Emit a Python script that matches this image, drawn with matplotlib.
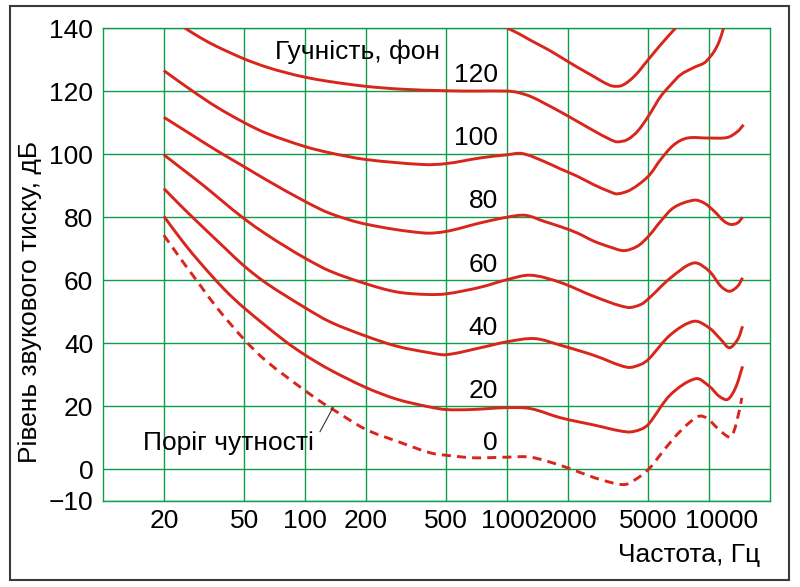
import numpy as np
import matplotlib
matplotlib.use('Agg')
import matplotlib.pyplot as plt
from matplotlib.patches import Rectangle, PathPatch
from matplotlib.path import Path

plt.rcParams['font.family'] = ['Liberation Sans', 'DejaVu Sans']

# equal loudness curves (Hz, dB)
f140 = [1000, 1150, 1306, 1590, 1837, 2223, 2687, 3020, 3320, 3710, 4260, 5000, 5754, 6820]
db140 = [140, 138.1, 136.1, 133.2, 130.8, 127.6, 124.6, 122.7, 121.6, 121.8, 124.7, 130.0, 134.7, 140]

f120 = [25.4, 30.2, 36.4, 50, 64.5, 81, 100, 133, 200, 300, 500, 700, 1000, 1120, 1306, 1521,
        1837, 2223, 2687, 3250, 3510, 3936, 4413, 5000, 5754, 6456, 7230, 8420, 9440, 10000,
        10590, 11220, 11780]
db120 = [140, 137.0, 134.2, 130.2, 127.6, 125.8, 124.4, 123.0, 121.5, 120.6, 120.1, 120.0, 120, 119.6,
         118.3, 116.2, 113.4, 110.4, 107.4, 104.6, 103.9, 104.6, 107.2, 112, 118.3, 122, 125.2,
         127.5, 128.9, 130.5, 132.6, 135.8, 140]

f100 = [20, 26.9, 36.4, 50, 64.5, 100, 133, 200, 386, 500, 738, 1000, 1187, 1521, 1837, 2223,
        2687, 3250, 3510, 4084, 5000, 5754, 6700, 7800, 10000, 12330, 13830, 14800]
db100 = [126.5, 120.6, 115.0, 110.0, 106.6, 102.4, 100.4, 98.3, 96.7, 97.0, 98.8, 99.8, 100.2,
         97.7, 95.3, 93, 90.3, 88, 87.4, 88.7, 93, 98.3, 103, 105.1, 105.1, 105.3, 107.2, 109.3]

f80 = [20, 26.9, 36.4, 50, 64.5, 100, 133, 200, 386, 500, 738, 1000, 1233, 1521, 1837, 2223,
       2687, 3250, 3790, 4413, 5000, 5754, 6700, 8420, 9440, 10590, 11860, 12800, 13830, 14630]
db80 = [111.7, 106.5, 101.2, 96.0, 91.8, 85.0, 81.2, 77.8, 75.0, 75.5, 78.2, 80.0, 80.6, 78.7,
        77.0, 75.0, 72.4, 70.5, 69.4, 70.8, 73.9, 78.7, 83.1, 85.4, 84.5, 81.9, 78.7, 77.7, 78.2, 80.0]

f60 = [20, 25, 31.5, 40, 50, 64.5, 81, 100, 133, 200, 284, 400, 500, 738, 1000, 1306, 1837,
       2687, 3936, 4580, 5000, 6456, 8420, 10000, 11430, 12590, 13830, 14630]
db60 = [99.8, 95, 90, 84.5, 79.5, 74.5, 70.5, 67, 62.9, 58.9, 56.3, 55.5, 55.7, 57.8, 60.2, 61.6,
        59.3, 54.9, 51.4, 52.3, 54.1, 60.8, 65.5, 62.9, 58.1, 56.5, 58.1, 60.8]

f40 = [20, 25, 31.5, 40, 50, 64.5, 100, 133, 200, 284, 415, 500, 738, 1000, 1370, 1837, 2687,
       3936, 4580, 5000, 6456, 8420, 10000, 11430, 12590, 13830, 14630]
db40 = [89.1, 82.8, 76.6, 70.3, 64.5, 59.0, 51.3, 46.8, 42.3, 39.1, 37.0, 36.4, 38.6, 40.5, 41.5,
        39.4, 36.2, 32.4, 33.3, 34.9, 42.8, 47.0, 44.9, 41.2, 38.6, 41.2, 45.4]

f20 = [20, 25, 30.8, 40, 50, 78.5, 100, 133, 200, 284, 415, 500, 660, 1000, 1306, 1837, 2687,
       3936, 4580, 5000, 6456, 8600, 10000, 11220, 12330, 13500, 14630]
db20 = [80.3, 72, 65, 57, 51.2, 41.0, 36.3, 31.6, 26.0, 22.3, 19.8, 19.0, 19.0, 19.6, 19.3, 16.4,
        14.1, 11.9, 12.7, 14.3, 23.8, 28.8, 26.4, 23.2, 22.2, 25.9, 32.7]

# threshold of hearing (dashed)
f0 = [20, 23.5, 25.4, 30.2, 36.4, 50, 64.5, 100, 124, 133, 200, 284, 415, 500, 686, 1000, 1306,
      1837, 2307, 2897, 3786, 4310, 5000, 5754, 6700, 7800, 8930, 9780, 10950, 12590, 13170,
      14080, 14500]
db0 = [74.3, 68.0, 65.0, 58.5, 51.5, 41.2, 34.3, 25.0, 20.8, 19.6, 12.7, 9.0, 5.3, 4.5, 3.7, 3.9,
       3.9, 1.3, -1.0, -3.2, -4.8, -3.2, 0, 4.8, 10.0, 14.3, 16.9, 16.2, 13.2, 10.2, 11.6, 18.5, 22.7]

phon_labels = ['120', '100', '80', '60', '40', '20', '0']
phon_label_db = [125, 105, 85, 65, 45, 25, 8.4]

xticks = [20, 50, 100, 200, 500, 1000, 2000, 5000, 10000]
xtick_shift = [0, 0, 0, 0, 0, 2, 0, 0, 9]   # points, the source nudges some labels
yticks = [-10, 0, 20, 40, 60, 80, 100, 120, 140]

red = '#d9261c'
green = '#0f9a4c'
FS = 19
LW = 2.1


def smooth_path(f, db):
    # bezier through the read points (chord-length tangents), in log-f / dB space
    P = np.column_stack([np.log10(f) * 201.7, np.array(db) * 3.155])
    n = len(P)
    d = np.hypot(*np.diff(P, axis=0).T)
    m = np.zeros_like(P)
    m[0] = (P[1] - P[0]) / d[0]
    m[-1] = (P[-1] - P[-2]) / d[-1]
    for i in range(1, n - 1):
        m[i] = (P[i + 1] - P[i - 1]) / (d[i - 1] + d[i])
    verts = [P[0]]
    codes = [Path.MOVETO]
    for i in range(n - 1):
        verts += [P[i] + m[i] * d[i] / 3, P[i + 1] - m[i + 1] * d[i] / 3, P[i + 1]]
        codes += [Path.CURVE4] * 3
    verts = np.array(verts)
    return Path(np.column_stack([10 ** (verts[:, 0] / 201.7), verts[:, 1] / 3.155]), codes)


fig = plt.figure(figsize=(8, 5.87), dpi=100)
ax = fig.add_axes([103/800, 86/587, 667/800, 473/587])
ax.set_xscale('log')
ax.set_xlim(10, 20000)
ax.set_ylim(-10, 140)

for f, db in [(f140, db140), (f120, db120), (f100, db100), (f80, db80),
              (f60, db60), (f40, db40), (f20, db20)]:
    ax.add_patch(PathPatch(smooth_path(f, db), fill=False, edgecolor=red, lw=LW,
                           capstyle='butt', joinstyle='round', zorder=3))
ax.add_patch(PathPatch(smooth_path(f0, db0), fill=False, edgecolor=red, lw=LW,
                       linestyle=(0, (3.1, 2.1)), capstyle='butt', zorder=3))

ax.set_xticks(xticks)
ax.set_xticklabels([])
ax.xaxis.set_minor_locator(matplotlib.ticker.NullLocator())
ax.set_yticks(yticks)
ax.tick_params(axis='both', length=0, labelsize=FS)
ax.tick_params(axis='y', pad=7)
ax.grid(True, color=green, lw=1.0)
ax.set_axisbelow(True)
for s in ax.spines.values():
    s.set_color(green)
    s.set_linewidth(1.0)

# x tick labels by hand so 1000 / 10000 can sit where the source puts them
for t, dx in zip(xticks, xtick_shift):
    ax.annotate(str(t), xy=(t, 0), xycoords=('data', 'axes fraction'), xytext=(dx, -14.5),
                textcoords='offset points', ha='center', va='center', fontsize=FS)

# curve labels
for lab, y in zip(phon_labels, phon_label_db):
    ax.text(900, y, lab, fontsize=FS, ha='right', va='center', zorder=4)
ax.text(71, 132.5, 'Гучність, фон', fontsize=FS, ha='left', va='center', zorder=4)
ax.text(15.7, 8.3, 'Поріг чутності', fontsize=FS, ha='left', va='center', zorder=4)
ax.plot([118.6, 137.7], [12.0, 19.7], color='#333333', lw=0.8, zorder=4)

fig.text(760/800, 1 - 555/587, 'Частота, Гц', fontsize=FS, ha='right', va='center')
fig.text(30/800, 1 - 302/587, 'Рівень звукового тиску, дБ', fontsize=FS, rotation=90,
         ha='center', va='center')

# outer border
fig.patches.append(Rectangle((10/800, 1 - 580/587), 779/800, 574/587, transform=fig.transFigure,
                             fill=False, edgecolor='#3a3a3a', lw=1.5))

fig.savefig('out.png', dpi=100)
